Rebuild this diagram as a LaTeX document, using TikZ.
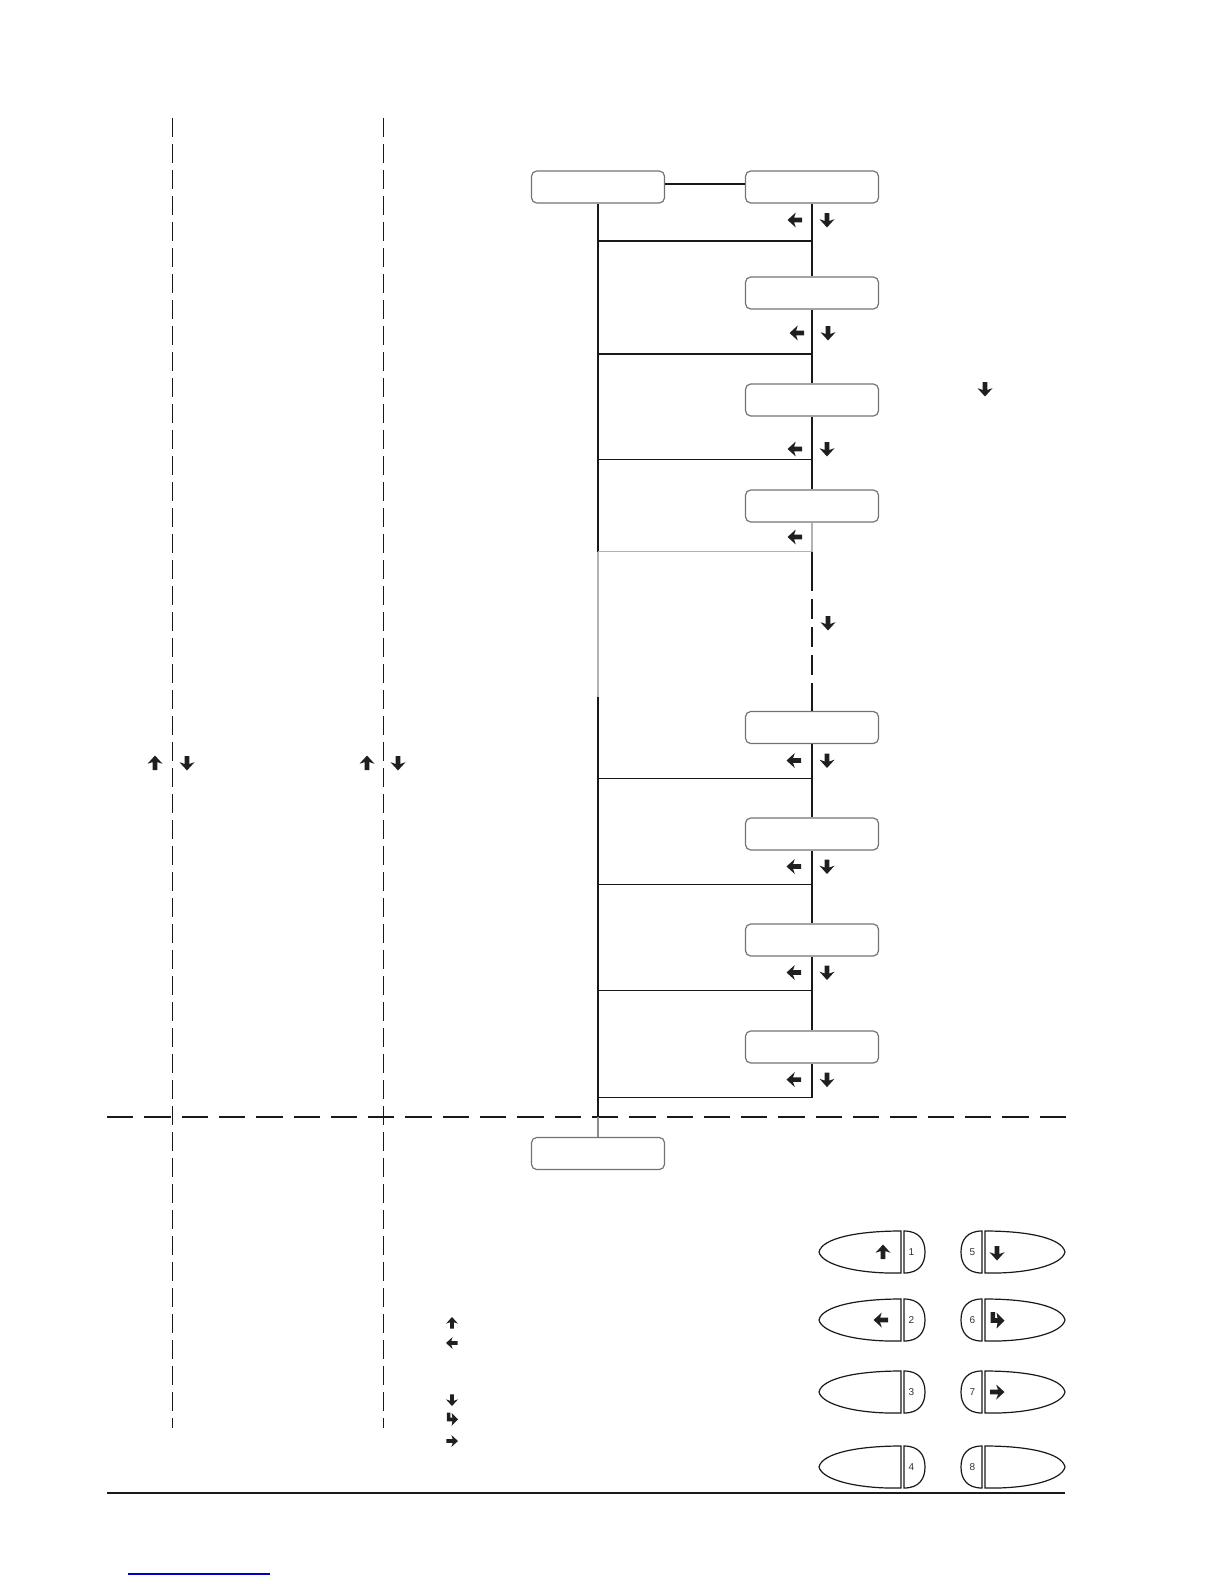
\documentclass[tikz,border=0pt]{standalone}
\usepackage{fontspec}
\setmainfont{Liberation Sans}
\tikzset{
  icon/.style={fill=black!88},
  uarr/.pic={\fill[icon] (0,-7.5) -- (7.5,0.8) -- (2.3,-1) -- (2.3,7) -- (-2.3,7) -- (-2.3,-1) -- (-7.5,0.8) -- cycle;},
  darr/.pic={\fill[icon] (0,7.5) -- (7.5,-0.8) -- (2.3,1) -- (2.3,-7) -- (-2.3,-7) -- (-2.3,1) -- (-7.5,-0.8) -- cycle;},
  larr/.pic={\fill[icon] (-7.5,0) -- (0.8,-7.5) -- (-1,-2.3) -- (7,-2.3) -- (7,2.3) -- (-1,2.3) -- (0.8,7.5) -- cycle;},
  rarr/.pic={\fill[icon] (7.5,0) -- (-0.8,-7.5) -- (1,-2.3) -- (-7,-2.3) -- (-7,2.3) -- (1,2.3) -- (-0.8,7.5) -- cycle;},
  barr/.pic={\fill[icon] (-6.5,-8) -- (-2,-8) -- (-2,-1.8) -- (0.5,-1.8) -- (-0.5,-7.5) -- (7.5,0.6) -- (-0.5,8.5) -- (0.5,2.8) -- (-6.5,2.8) -- cycle;}
}
\begin{document}
\begin{tikzpicture}[x=0.5pt,y=-0.5pt,
  box/.style={draw=black!55,line width=0.6pt,rounded corners=2.6pt,minimum width=66.5pt,minimum height=16pt,inner sep=0pt},
  ln/.style={line width=0.55pt,draw=black!90},
  lnlight/.style={line width=0.55pt,draw=black!30},
  vdash/.style={line width=0.6pt,draw=black!90,dash pattern=on 9.5pt off 3.5pt},
  hdash/.style={line width=0.65pt,draw=black!90,dash pattern=on 13.15pt off 5.5pt},
  ddash/.style={line width=0.6pt,draw=black!90,dash pattern=on 10pt off 4pt},
  btn/.style={line width=0.6pt,draw=black!90},
  num/.style={font=\fontsize{5}{6}\selectfont,inner sep=0pt,text=black!80}]
\useasboundingbox (0,0) rectangle (1224,1584);

% page frame lines
\coordinate (V1t) at (172.5,118); \coordinate (V1b) at (172.5,1428);
\coordinate (V2t) at (383.5,118); \coordinate (V2b) at (383.5,1428);
\coordinate (Hl) at (107,1117); \coordinate (Hr) at (1066,1117);
\coordinate (Sl) at (107,1493); \coordinate (Sr) at (1065,1493);
\coordinate (Bl) at (128,1574); \coordinate (Br) at (270,1574);
\draw[vdash] (V1t) -- (V1b);
\draw[vdash] (V2t) -- (V2b);
\draw[hdash] (Hl) -- (Hr);
\draw[line width=0.7pt,black!90] (Sl) -- (Sr);
\draw[line width=0.7pt,blue!80!black] (Bl) -- (Br);

% boxes
\node[box] (a0) at (598,187) {};
\node[box] (b1) at (812,187) {};
\node[box] (b2) at (812,293) {};
\node[box] (b3) at (812,400) {};
\node[box] (b4) at (812,506) {};
\node[box] (b5) at (812,727.5) {};
\node[box] (b6) at (812,834) {};
\node[box] (b7) at (812,940) {};
\node[box] (b8) at (812,1047) {};
\node[box] (a1) at (598,1153.5) {};

% junctions
\coordinate (L1) at (598,241);   \coordinate (R1) at (812,241);
\coordinate (L2) at (598,354);   \coordinate (R2) at (812,354);
\coordinate (L3) at (598,459.5); \coordinate (R3) at (812,459.5);
\coordinate (L4) at (598,551.7); \coordinate (R4) at (812,551.7);
\coordinate (L5) at (598,778.6); \coordinate (R5) at (812,778.6);
\coordinate (L6) at (598,884.7); \coordinate (R6) at (812,884.7);
\coordinate (L7) at (598,990.7); \coordinate (R7) at (812,990.7);
\coordinate (L8) at (598,1097.8);\coordinate (R8) at (812,1097.8);
\coordinate (G1) at (598,697);
\coordinate (X1) at (598,1117);
\coordinate (D1) at (812,571);
\coordinate (D2) at (812,693);

% connectors
\draw[ln] ([yshift=1.5pt]a0.east) -- ([yshift=1.5pt]b1.west);
\draw[ln] (a0.south) -- (L4);
\draw[lnlight] (L4) -- (G1);
\draw[ln] (G1) -- (X1);
\draw[line width=0.55pt,draw=black!45] (X1) -- (a1.north);
\draw[ln] (b1.south) -- (b2.north);
\draw[ln] (b2.south) -- (b3.north);
\draw[ln] (b3.south) -- (b4.north);
\draw[lnlight] (b4.south) -- (R4);
\draw[ln] (R4) -- (D1);
\draw[ddash] (D1) -- (D2);
\draw[ln] (D2) -- (b5.north);
\draw[ln] (b5.south) -- (b6.north);
\draw[ln] (b6.south) -- (b7.north);
\draw[ln] (b7.south) -- (b8.north);
\draw[ln] (b8.south) -- (R8);
\draw[ln] (L1) -- (R1);
\draw[ln] (L2) -- (R2);
\draw[ln] (L3) -- (R3);
\draw[lnlight] (L4) -- (R4);
\draw[ln] (L5) -- (R5);
\draw[ln] (L6) -- (R6);
\draw[ln] (L7) -- (R7);
\draw[ln] (L8) -- (R8);

% arrow icons under boxes
\pic at (795,220) {larr};   \pic at (827,220) {darr};
\pic at (797,333) {larr};   \pic at (828,333) {darr};
\pic at (795,449) {larr};   \pic at (827,449) {darr};
\pic at (795,537) {larr};
\pic at (828,623) {darr};
\pic at (794,760.5) {larr}; \pic at (827,760.5) {darr};
\pic at (794,866.5) {larr}; \pic at (827,866.5) {darr};
\pic at (794,972.5) {larr}; \pic at (827,972.5) {darr};
\pic at (794,1079.6) {larr};\pic at (827,1079.6) {darr};
\pic at (985,389) {darr};

% left panel icons
\pic at (155,763) {uarr}; \pic at (187,763) {darr};
\pic at (367,763) {uarr}; \pic at (398,763) {darr};

% legend icons
\pic[scale=0.8] at (452,1323) {uarr};
\pic[scale=0.8] at (452,1343) {larr};
\pic[scale=0.8] at (452,1400) {darr};
\pic[scale=0.8] at (452,1419) {barr};
\pic[scale=0.8] at (452,1441) {rarr};

% keypad buttons
\foreach \cy/\i/\j in {1252/1/5, 1320/2/6, 1392/3/7, 1467/4/8}{
  \draw[btn] (901,\cy-21) .. controls (858,\cy-21) and (822,\cy-14) .. (819,\cy)
             .. controls (822,\cy+13) and (858,\cy+22) .. (901,\cy+21) -- cycle;
  \draw[btn] (904,\cy-21) .. controls (919,\cy-21) and (925,\cy-12) .. (925,\cy)
             .. controls (925,\cy+12) and (919,\cy+21) .. (904,\cy+21) -- cycle;
  \node[num] (nl\i) at (911.5,\cy) {\i};
  \draw[btn] (982,\cy-21) .. controls (967,\cy-21) and (961,\cy-12) .. (961,\cy)
             .. controls (961,\cy+12) and (967,\cy+21) .. (982,\cy+21) -- cycle;
  \draw[btn] (985,\cy-21) .. controls (1028,\cy-21) and (1062,\cy-14) .. (1065,\cy)
             .. controls (1062,\cy+13) and (1028,\cy+22) .. (985,\cy+21) -- cycle;
  \node[num] (nr\j) at (972.5,\cy) {\j};
}
\pic at (883,1252) {uarr};
\pic at (881,1320) {larr};
\pic at (997,1253) {darr};
\pic at (997,1320) {barr};
\pic at (997,1392) {rarr};
\end{tikzpicture}
\end{document}
